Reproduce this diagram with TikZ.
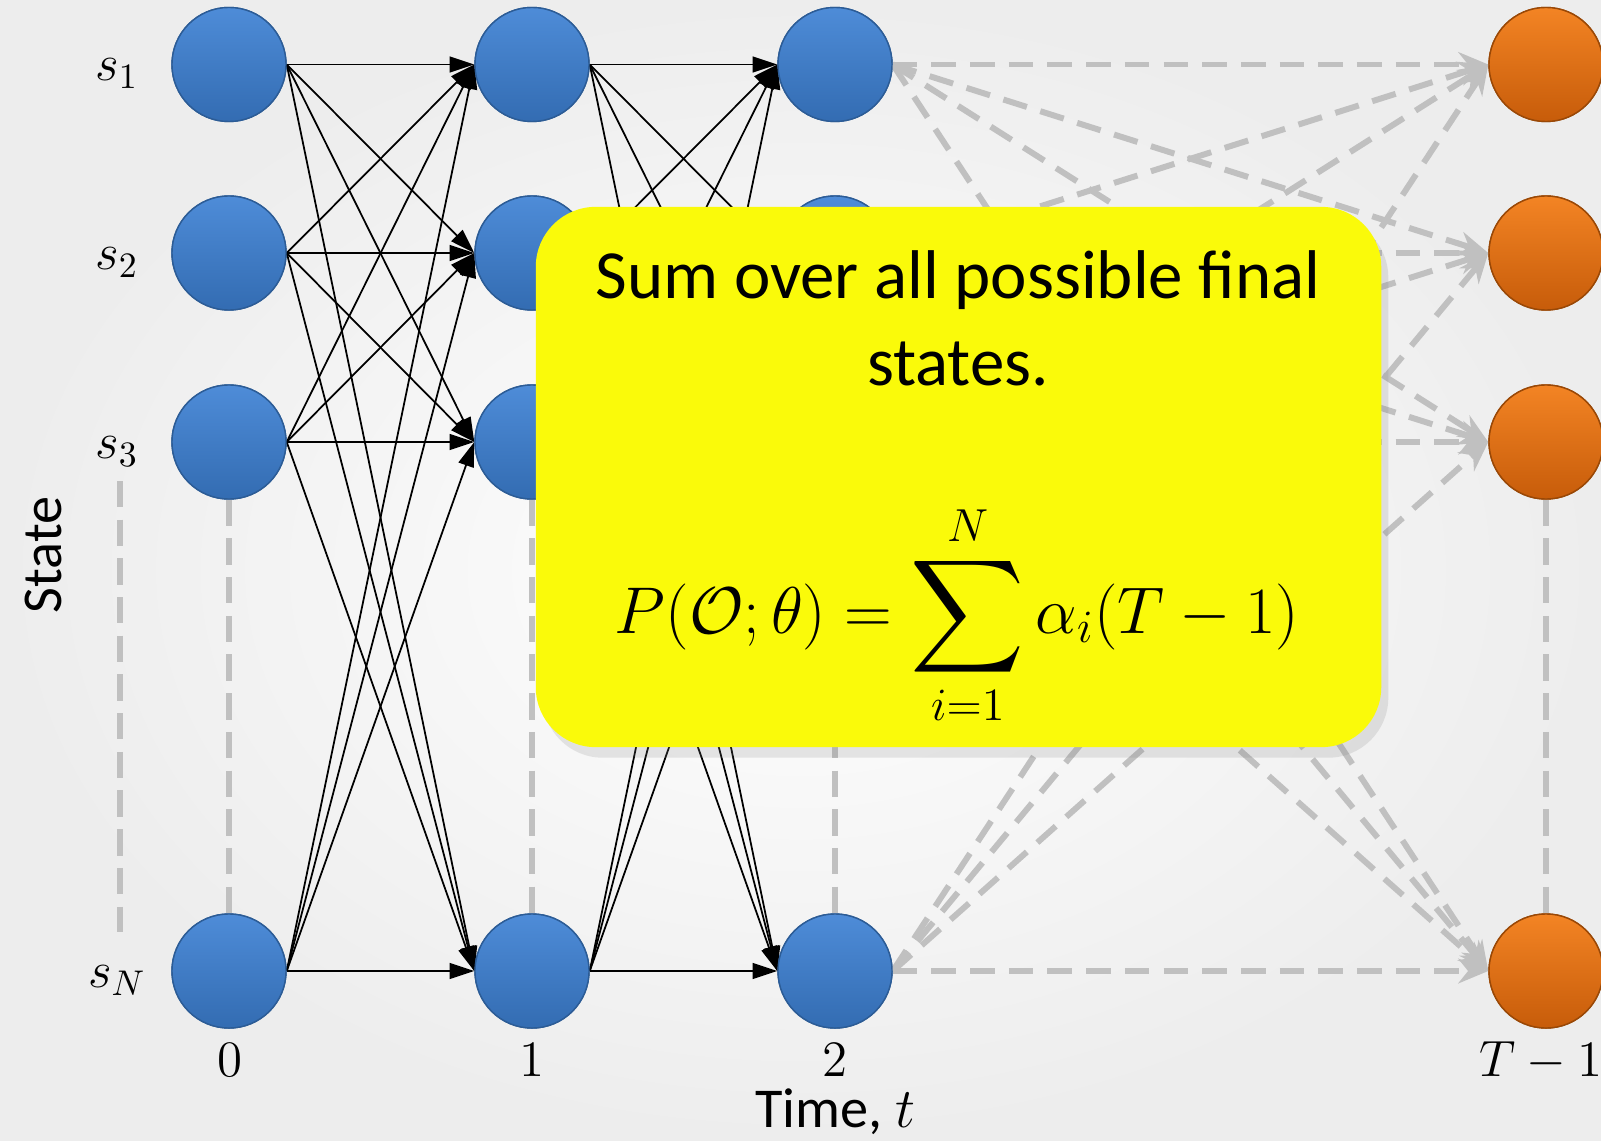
\RequirePackage{fix-cm}
\documentclass[tikz,border=0pt]{standalone}
\usepackage{amsmath}
\usepackage{exscale}
\usepackage{graphicx}
\usepackage[no-math]{fontspec}
\newfontfamily\calibri{Carlito}
\usetikzlibrary{arrows.meta,shadows,positioning}
\definecolor{bgpaper}{HTML}{EDEDED}
\definecolor{balltop}{HTML}{4E8CD8}
\definecolor{ballmid}{HTML}{3E7CC7}
\definecolor{ballbot}{HTML}{336CB2}
\definecolor{ballrim}{HTML}{2C5C96}
\definecolor{ambertop}{HTML}{F38424}
\definecolor{ambermid}{HTML}{E36E10}
\definecolor{amberbot}{HTML}{C75C0A}
\definecolor{amberrim}{HTML}{9A4806}
\definecolor{notegold}{HTML}{FAFA0A}
\definecolor{hintgray}{HTML}{C0C0C0}

\tikzset{
  ball/.style={circle,inner sep=0pt,minimum size=1.14cm,line width=0.4pt},
  blueball/.style={ball,top color=balltop,middle color=ballmid,bottom color=ballbot,draw=ballrim},
  amberball/.style={ball,top color=ambertop,middle color=ambermid,bottom color=amberbot,draw=amberrim},
  trans/.style={line width=0.5pt,-{Triangle[length=7pt,width=4.5pt]}},
  future/.style={hintgray,line width=1.7pt,dash pattern=on 7pt off 4pt,-{Stealth[length=8.5pt,width=7pt]}},
  guide/.style={hintgray,line width=1.5pt,dash pattern=on 7.5pt off 3.5pt},
  rowlab/.style={anchor=base,font=\fontsize{14.5}{17}\selectfont},
  collab/.style={anchor=base,font=\fontsize{14.5}{17}\selectfont},
  notetext/.style={anchor=base,font=\calibri\fontsize{19.6}{24.7}\selectfont},
  axistext/.style={anchor=base,font=\calibri\fontsize{16}{19}\selectfont},
}

\begin{document}
\begin{tikzpicture}[x=0.01cm,y=-0.01cm]
  \useasboundingbox (0,0) rectangle (1601,1140);
  \shade[inner color=white,outer color=bgpaper] (0,0) rectangle (1601,1140);

  % trellis nodes
  \foreach \r/\y in {1/64.5,2/253,3/442,N/971}{
    \node[blueball] (t0s\r) at (229,\y) {};
    \node[blueball] (t1s\r) at (532,\y) {};
    \node[blueball] (t2s\r) at (835,\y) {};
    \node[amberball] (t3s\r) at (1546,\y) {};
    \node[rowlab] (lab\r) at (117,\y+16.5) {$s_{\r}$};
  }

  % vertical guides
  \coordinate (dotstop) at (120,481);
  \coordinate (dotsbot) at (120,932);
  \draw[guide] (dotstop) -- (dotsbot);
  \foreach \c in {0,1,2,3}
    \draw[guide] (t\c s3.south) -- (t\c sN.north);

  % transitions
  \foreach \a in {1,2,3,N}{
    \foreach \b in {1,2,3,N}{
      \draw[future] (t2s\a.east) -- (t3s\b.west);
      \draw[trans] (t0s\a.east) -- (t1s\b.west);
      \draw[trans] (t1s\a.east) -- (t2s\b.west);
    }
  }
  % redraw nodes above the lines
  \foreach \r/\y in {1/64.5,2/253,3/442,N/971}{
    \node[blueball] at (229,\y) {};
    \node[blueball] at (532,\y) {};
    \node[blueball] at (835,\y) {};
    \node[amberball] at (1546,\y) {};
  }

  % axes
  \node[collab] (tick0) at (230,1076) {$0$};
  \node[collab] (tick1) at (532,1076) {$1$};
  \node[collab] (tick2) at (835,1076) {$2$};
  \node[collab] (tick3) at (1541,1076) {$T-1$};
  \node[axistext] (timelab) at (835,1127) {Time, $t$};
  \node[axistext,rotate=90] (statelab) at (61,555) {State};

  % note
  \node[fill=notegold,rounded corners=0.6cm,minimum width=8.45cm,minimum height=5.4cm,
        drop shadow={shadow xshift=2pt,shadow yshift=-3pt,opacity=0.18}] (note) at (958.5,477) {};
  \node[notetext] (noteline1) at (958,298) {Sum over all possible final};
  \node[notetext] (noteline2) at (958,385) {states.};
  \node[anchor=base,font=\fontsize{18.8}{23}\selectfont] (formula) at (957,633)
    {$\displaystyle P(\mathcal{O};\theta)=\mathop{\vcenter{\hbox{\scalebox{1.3}{$\displaystyle\sum$}}}}\limits_{i=1}^{N}\alpha_i(T-1)$};
\end{tikzpicture}
\end{document}
